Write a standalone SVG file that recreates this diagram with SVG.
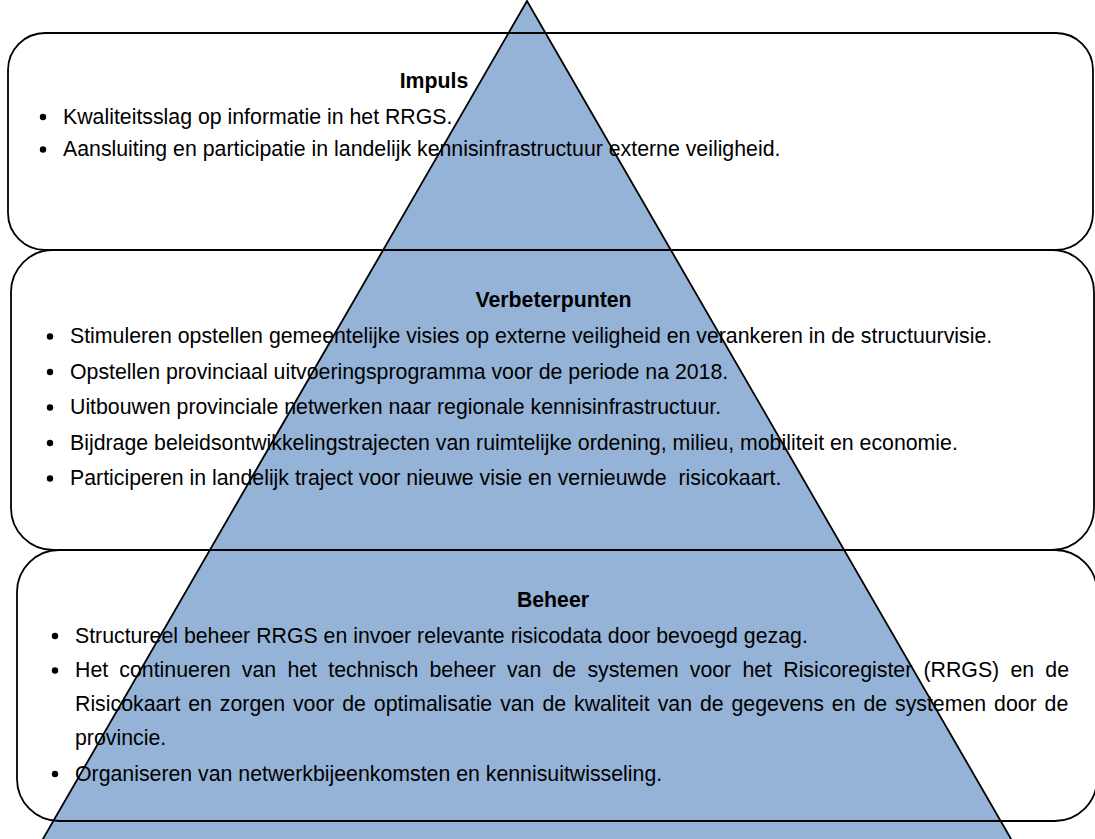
<svg xmlns="http://www.w3.org/2000/svg" width="1095" height="839" viewBox="0 0 1095 839">
<style>
.box{fill:none;stroke:#000;stroke-width:1.8}
.tri{fill:#95B3D7;stroke:#000;stroke-width:1.8}
text{font-family:"Liberation Sans",Arial,sans-serif;font-size:21.3px;fill:#000}
.title{font-weight:bold;text-anchor:middle}
.dot{fill:#000}
</style>
<rect width="1095" height="839" fill="#fff"/>
<g id="pyramid">
<polygon class="tri" points="527,1 30.8,860 1023.2,860"/>
</g>
<g id="impuls">
<rect class="box" x="8" y="33" width="1085" height="217" rx="37" ry="37"/>
<text class="title" x="434" y="88">Impuls</text>
<circle class="dot" cx="43" cy="117" r="3.2"/>
<text x="63" y="123.5">Kwaliteitsslag op informatie in het RRGS.</text>
<circle class="dot" cx="43" cy="149.5" r="3.2"/>
<text x="63" y="156">Aansluiting en participatie in landelijk kennisinfrastructuur externe veiligheid.</text>
</g>
<g id="verbeterpunten">
<rect class="box" x="11" y="250" width="1083" height="300" rx="42" ry="42"/>
<text class="title" x="553.5" y="307">Verbeterpunten</text>
<circle class="dot" cx="50" cy="336.5" r="3.2"/>
<text x="70" y="343">Stimuleren opstellen gemeentelijke visies op externe veiligheid en verankeren in de structuurvisie.</text>
<circle class="dot" cx="50" cy="372" r="3.2"/>
<text x="70" y="378.5">Opstellen provinciaal uitvoeringsprogramma voor de periode na 2018.</text>
<circle class="dot" cx="50" cy="407.5" r="3.2"/>
<text x="70" y="414">Uitbouwen provinciale netwerken naar regionale kennisinfrastructuur.</text>
<circle class="dot" cx="50" cy="443" r="3.2"/>
<text x="70" y="449.5">Bijdrage beleidsontwikkelingstrajecten van ruimtelijke ordening, milieu, mobiliteit en economie.</text>
<circle class="dot" cx="50" cy="478.5" r="3.2"/>
<text x="70" y="485">Participeren in landelijk traject voor nieuwe visie en vernieuwde&#160; risicokaart.</text>
</g>
<g id="beheer">
<rect class="box" x="17" y="550" width="1080" height="271" rx="42" ry="42"/>
<text class="title" x="553" y="607">Beheer</text>
<circle class="dot" cx="55" cy="636" r="3.2"/>
<text x="75" y="642.5">Structureel beheer RRGS en invoer relevante risicodata door bevoegd gezag.</text>
<circle class="dot" cx="55" cy="670.5" r="3.2"/>
<text x="75" y="677" word-spacing="5.3">Het continueren van het technisch beheer van de systemen voor het Risicoregister (RRGS) en de</text>
<text x="75" y="711" word-spacing="2">Risicokaart en zorgen voor de optimalisatie van de kwaliteit van de gegevens en de systemen door de</text>
<text x="75" y="745">provincie.</text>
<circle class="dot" cx="55" cy="774" r="3.2"/>
<text x="75" y="780.5">Organiseren van netwerkbijeenkomsten en kennisuitwisseling.</text>
</g>
<g id="connectors"/>
</svg>
